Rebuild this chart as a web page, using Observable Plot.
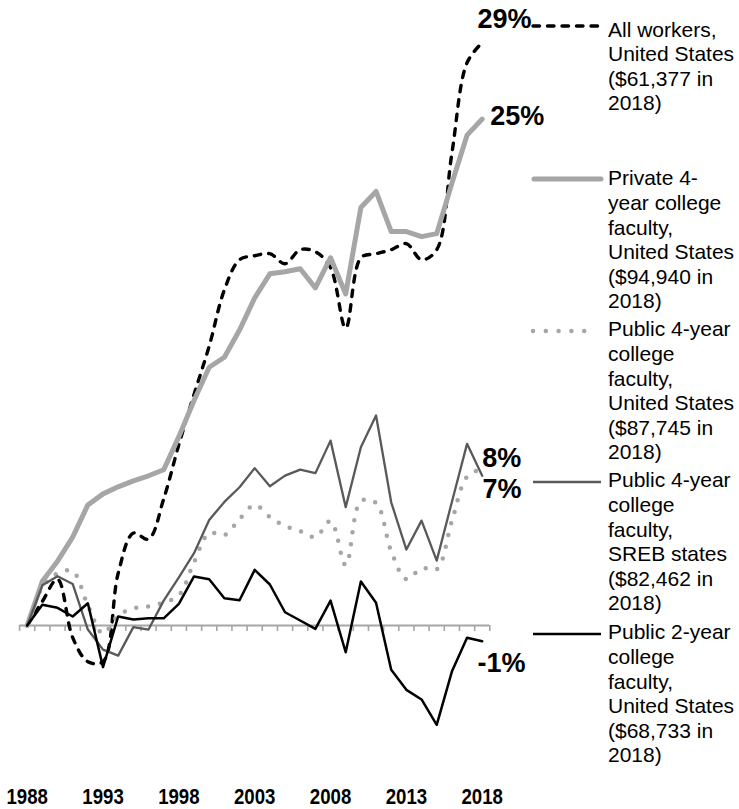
<!DOCTYPE html>
<html><head><meta charset="utf-8">
<script src="https://cdn.jsdelivr.net/npm/d3@7"></script>
<script src="https://cdn.jsdelivr.net/npm/@observablehq/plot@0.6"></script>
<style>
html,body{margin:0;padding:0;background:#fff;}
#wrap{position:relative;width:739px;height:809px;overflow:hidden;}
#legend{position:absolute;left:0;top:0;width:739px;height:809px;pointer-events:none;font-family:"Liberation Sans",Arial,sans-serif;font-size:21px;line-height:24.6px;color:#000;}
.entry{position:absolute;left:608px;white-space:pre;}
.sw{position:absolute;left:528px;overflow:visible;}
</style></head><body><div id="wrap"><div id="legend"></div></div>
<script>
// ---- data ----
const years = [1988,1989,1990,1991,1992,1993,1994,1995,1996,1997,1998,1999,2000,2001,2002,2003,2004,2005,2006,2007,2008,2009,2010,2011,2012,2013,2014,2015,2016,2017,2018];
const tickYears = [1988,1993,1998,2003,2008,2013,2018];

const allWorkers = [0,1.2,2.3,-0.6,-1.8,-1.8,2.6,4.6,4.3,6.3,9.0,11.5,13.9,16.7,18.2,18.4,18.5,18.0,18.7,18.6,17.8,14.8,18.3,18.5,18.7,19.0,18.2,18.7,23.5,28.0,29.0];
const private4 = [0,2.2,3.2,4.4,6.0,6.55,6.9,7.2,7.45,7.75,9.4,11.2,12.85,13.35,14.7,16.3,17.5,17.6,17.75,16.8,18.3,16.5,20.8,21.6,19.6,19.6,19.35,19.5,22.0,24.4,25.2];
const public4US = [0,1.9,2.6,2.7,1.0,-0.4,0.5,0.85,0.95,1.15,1.5,3.15,4.6,4.5,5.3,6.0,5.4,4.95,4.7,4.4,5.2,3.0,6.2,6.1,3.7,2.3,2.85,2.8,5.2,7.4,7.8];
const public4SREB = [0,2.0,2.45,2.07,-0.2,-1.2,-1.5,-0.08,-0.2,1.24,2.4,3.6,5.25,6.15,6.88,7.83,6.93,7.46,7.76,7.58,9.2,5.89,8.87,10.45,6.13,3.78,5.22,3.23,6.15,9.04,7.45];
const public2US = [0,1.03,0.88,0.45,1.11,-2.07,0.45,0.3,0.36,0.36,1.08,2.44,2.3,1.36,1.26,2.77,2.04,0.66,0.25,-0.17,1.24,-1.33,2.19,1.13,-2.2,-3.2,-3.68,-4.94,-2.29,-0.61,-0.78];

const seriesNames = ["All workers","Private 4-year","Public 4-year US","Public 4-year SREB","Public 2-year"];
const seriesValues = [allWorkers, private4, public4US, public4SREB, public2US];
const endLabels = ["29%","25%","8%","7%","-1%"];
const legendTexts = [
  "All workers,\nUnited States\n($61,377 in\n2018)",
  "Private 4-\nyear college\nfaculty,\nUnited States\n($94,940 in\n2018)",
  "Public 4-year\ncollege\nfaculty,\nUnited States\n($87,745 in\n2018)",
  "Public 4-year\ncollege\nfaculty,\nSREB states\n($82,462 in\n2018)",
  "Public 2-year\ncollege\nfaculty,\nUnited States\n($68,733 in\n2018)"
];

// ---- styles / layout (not data) ----
const styles = [
  {stroke:"#000", strokeWidth:3.4, strokeDasharray:"6.5,8", strokeLinecap:"round", curve:"catmull-rom"},
  {stroke:"#a6a6a6", strokeWidth:5, strokeLinejoin:"round", strokeLinecap:"round", curve:"linear"},
  {stroke:"#a6a6a6", strokeWidth:4.5, strokeDasharray:"0,12", strokeLinecap:"round", curve:"catmull-rom"},
  {stroke:"#595959", strokeWidth:2.3, strokeLinejoin:"round", curve:"linear"},
  {stroke:"#000", strokeWidth:2.5, strokeLinejoin:"round", curve:"linear"}
];
const labelOffsets = [{dx:-4.7,dy:-23.7},{dx:8,dy:-3.1},{dx:0,dy:-10.1},{dx:0.3,dy:13.1},{dx:-4.7,dy:22}];
const legendLayout = [{top:17.5, lineY:26},{top:166.4, lineY:179},{top:317.4, lineY:331},{top:468.4, lineY:481.7},{top:620.4, lineY:634}];

const table = [];
seriesNames.forEach((s,i)=>years.forEach((yr,j)=>table.push({series:s, year:yr, value:seriesValues[i][j]})));

const tickPos = years.map(y=>y-0.5).concat([years[years.length-1]+0.5]);

const marks = [
  Plot.ruleY([0], {stroke:"#a6a6a6", strokeWidth:2}),
  Plot.ruleX(tickPos, {x:d=>d, y1:0, y2:-0.3, stroke:"#a6a6a6", strokeWidth:1.6})
];
seriesNames.forEach((s,i)=>{
  marks.push(Plot.lineY(table.filter(d=>d.series===s), {x:"year", y:"value", ...styles[i]}));
});
seriesNames.forEach((s,i)=>{
  const last = table.filter(d=>d.series===s && d.year===years[years.length-1]);
  marks.push(Plot.text(last, {x:"year", y:"value", text:()=>endLabels[i], textAnchor:"start", lineAnchor:"middle",
    dx:labelOffsets[i].dx, dy:labelOffsets[i].dy, fontSize:27, fontWeight:"bold", fontFamily:"'Liberation Sans', Arial, sans-serif", fill:"#000"}));
});

const chart = Plot.plot({
  width:739, height:809,
  marginLeft:19.1, marginRight:249.7, marginTop:2, marginBottom:63.4,
  style:{fontFamily:"'Liberation Sans', Arial, sans-serif", fontSize:"23px", fontWeight:"bold", background:"#fff", color:"#000"},
  x:{domain:[1987.5,2018.5], ticks:tickYears, tickSize:0, tickPadding:42, tickFormat:"d", label:null},
  y:{domain:[-6,31], axis:null},
  marks
});
const wrap = document.getElementById("wrap");
wrap.insertBefore(chart, wrap.firstChild);

// narrow the year labels (Arial Narrow look)
let tickTexts = chart.querySelectorAll('[aria-label="x-axis tick label"] text');
if (!tickTexts.length) tickTexts = chart.querySelectorAll('[aria-label="x-axis"] text');
tickTexts.forEach(t=>{
  const tr = t.getAttribute("transform") || "";
  t.setAttribute("transform", (tr + " scale(0.81,1)").trim());
  // keep anchor position correct after scaling: translate was applied first, so scaling is about the tick position
});

// legend overlay
const legend = document.getElementById("legend");
seriesNames.forEach((s,i)=>{
  const st = styles[i];
  const sw = document.createElementNS("http://www.w3.org/2000/svg","svg");
  sw.setAttribute("class","sw"); sw.setAttribute("width","80"); sw.setAttribute("height","12");
  sw.style.top = (legendLayout[i].lineY-6)+"px";
  const ln = document.createElementNS("http://www.w3.org/2000/svg","line");
  const x1 = i===1 ? 6 : 5, x2 = i===2 ? 69 : 73;
  ln.setAttribute("x1",x1); ln.setAttribute("x2",x2); ln.setAttribute("y1",6); ln.setAttribute("y2",6);
  ln.setAttribute("stroke",st.stroke); ln.setAttribute("stroke-width",st.strokeWidth);
  if (st.strokeDasharray) ln.setAttribute("stroke-dasharray", i===2 ? "0,12.8" : st.strokeDasharray);
  if (st.strokeLinecap) ln.setAttribute("stroke-linecap",st.strokeLinecap);
  sw.appendChild(ln);
  legend.appendChild(sw);
  const div = document.createElement("div");
  div.className="entry"; div.style.top = legendLayout[i].top+"px";
  div.textContent = legendTexts[i];
  legend.appendChild(div);
});
</script>
</body></html>
